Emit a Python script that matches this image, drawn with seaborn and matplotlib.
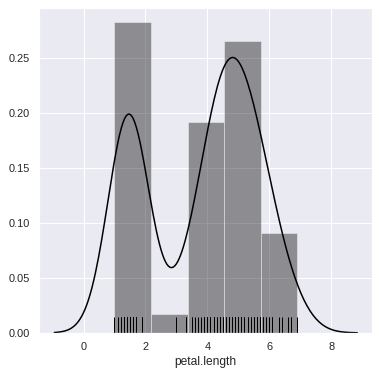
import warnings
import matplotlib
matplotlib.use("Agg")
import matplotlib.pyplot as plt
import seaborn as sns

warnings.filterwarnings("ignore")

# iris petal.length, by species
setosa = [1.4, 1.4, 1.3, 1.5, 1.4, 1.7, 1.4, 1.5, 1.4, 1.5,
          1.5, 1.6, 1.4, 1.1, 1.2, 1.5, 1.3, 1.4, 1.7, 1.5,
          1.7, 1.5, 1.0, 1.7, 1.9, 1.6, 1.6, 1.5, 1.4, 1.6,
          1.6, 1.5, 1.5, 1.4, 1.5, 1.2, 1.3, 1.4, 1.3, 1.5,
          1.3, 1.3, 1.3, 1.6, 1.9, 1.4, 1.6, 1.4, 1.5, 1.4]
versicolor = [4.7, 4.5, 4.9, 4.0, 4.6, 4.5, 4.7, 3.3, 4.6, 3.9,
              3.5, 4.2, 4.0, 4.7, 3.6, 4.4, 4.5, 4.1, 4.5, 3.9,
              4.8, 4.0, 4.9, 4.7, 4.3, 4.4, 4.8, 5.0, 4.5, 3.5,
              3.8, 3.7, 3.9, 5.1, 4.5, 4.5, 4.7, 4.4, 4.1, 4.0,
              4.4, 4.6, 4.0, 3.3, 4.2, 4.2, 4.2, 4.3, 3.0, 4.1]
virginica = [6.0, 5.1, 5.9, 5.6, 5.8, 6.6, 4.5, 6.3, 5.8, 6.1,
             5.1, 5.3, 5.5, 5.0, 5.1, 5.3, 5.5, 6.7, 6.9, 5.0,
             5.7, 4.9, 6.7, 4.9, 5.7, 6.0, 4.8, 4.9, 5.6, 5.8,
             6.1, 6.4, 5.6, 5.1, 5.6, 6.1, 5.6, 5.5, 4.8, 5.4,
             5.6, 5.1, 5.1, 5.9, 5.7, 5.2, 5.0, 5.2, 5.4, 5.1]

petal_length = setosa + versicolor + virginica

sns.set_theme(style="darkgrid")
plt.rcParams["font.family"] = ["Liberation Sans", "DejaVu Sans"]

fig = plt.figure(figsize=(380 / 72, 374 / 72), dpi=72)
ax = fig.add_axes([0.103, 0.11, 0.877, 0.869])
sns.distplot(petal_length, color="black", rug=True, ax=ax,
             rug_kws={"height": 0.05, "linewidth": 1.0})
ax.set_ylim(0, 0.2955)
ax.set_xlabel("petal.length")
ax.set_ylabel("")

plt.savefig("out.png", dpi=72)
